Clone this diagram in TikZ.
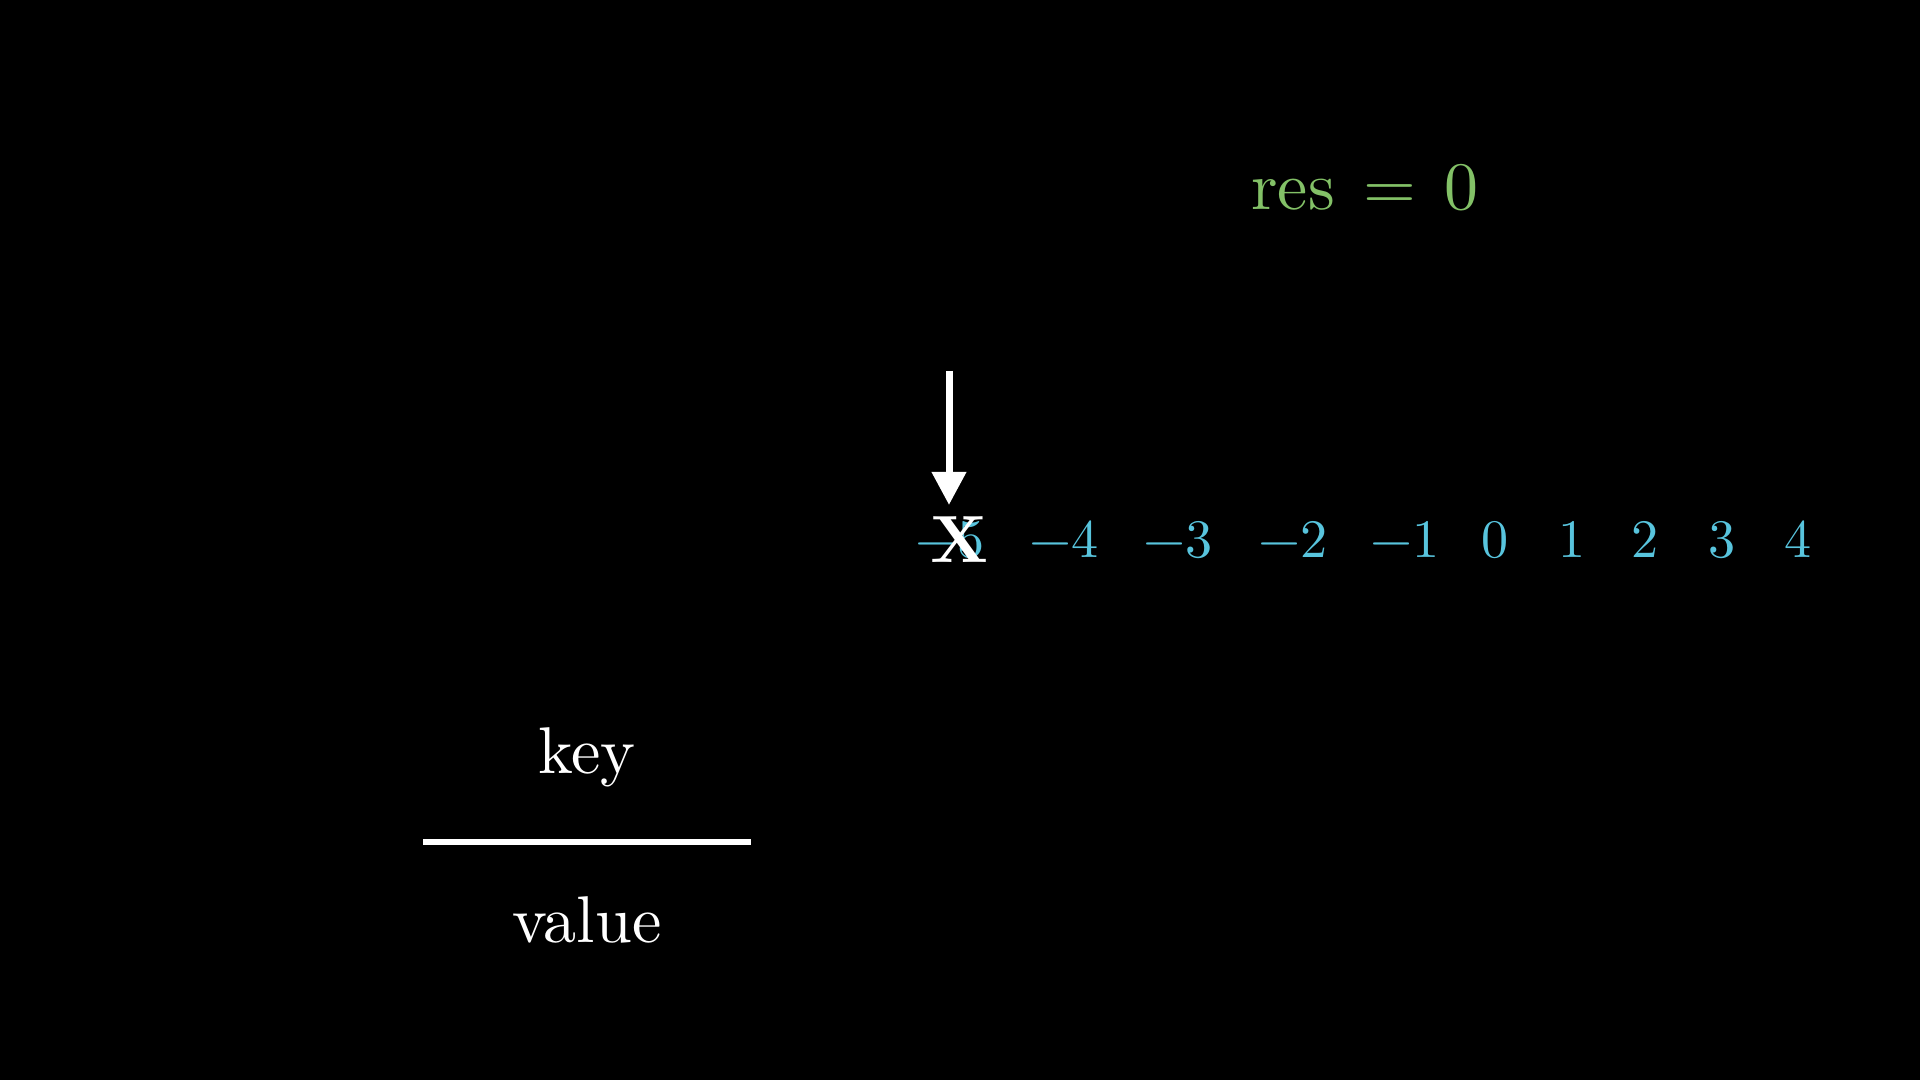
\documentclass[tikz,border=0pt]{standalone}
\usepackage{fontspec}
\setmainfont{lmroman10-regular}[Extension=.otf,BoldFont=lmroman10-bold]
\usepackage{tikz}
\usetikzlibrary{arrows.meta}
\usepackage{xcolor}
\definecolor{numblue}{HTML}{58C4DD}
\definecolor{resgreen}{HTML}{83C167}
\newcommand{\numy}{558}
\newcommand{\prnum}[3]{\node[numlab] (#1) at (#2,\numy) {#3};}

\begin{document}
\begin{tikzpicture}[x=0.01cm,y=-0.01cm,
    numlab/.style={text=numblue,anchor=base,inner sep=0pt,font=\fontsize{15.4}{19}\selectfont},
    wordlab/.style={text=white,anchor=base,inner sep=0pt,font=\fontsize{18.8}{22}\selectfont}]

    \fill[black] (0,0) rectangle (1920,1080);
    \useasboundingbox (0,0) rectangle (1920,1080);

    % result
    \node[anchor=base,inner sep=0pt,text=resgreen,font=\fontsize{19.3}{23}\selectfont] (res) at (1365,210) {res\hspace{0.42em}=\hspace{0.42em}0};

    % numbers
    \prnum{n5m}{950}{−5}
    \prnum{n4m}{1064}{−4}
    \prnum{n3m}{1178}{−3}
    \prnum{n2m}{1293}{−2}
    \prnum{n1m}{1405}{−1}
    \prnum{n0}{1495}{0}
    \prnum{n1}{1572}{1}
    \prnum{n2}{1645}{2}
    \prnum{n3}{1722}{3}
    \prnum{n4}{1798}{4}

    % pointer
    \node[anchor=base,inner sep=0pt,text=white,font=\fontsize{19}{23}\selectfont] (xmark) at (960,563) {\textbf{X}};
    \coordinate (arrtop) at (949,371);
    \coordinate (arrtip) at (949,505);
    \draw[white,line width=0.07cm,-{Triangle[width=0.33cm,length=0.33cm]}] (arrtop) -- (arrtip);

    % key / value
    \node[wordlab] (key) at (587,774) {key};
    \coordinate (kvleft) at (423,842);
    \coordinate (kvright) at (751,842);
    \draw[white,line width=0.06cm] (kvleft) -- (kvright);
    \node[wordlab] (value) at (587,943) {value};
    \end{tikzpicture}
\end{document}
